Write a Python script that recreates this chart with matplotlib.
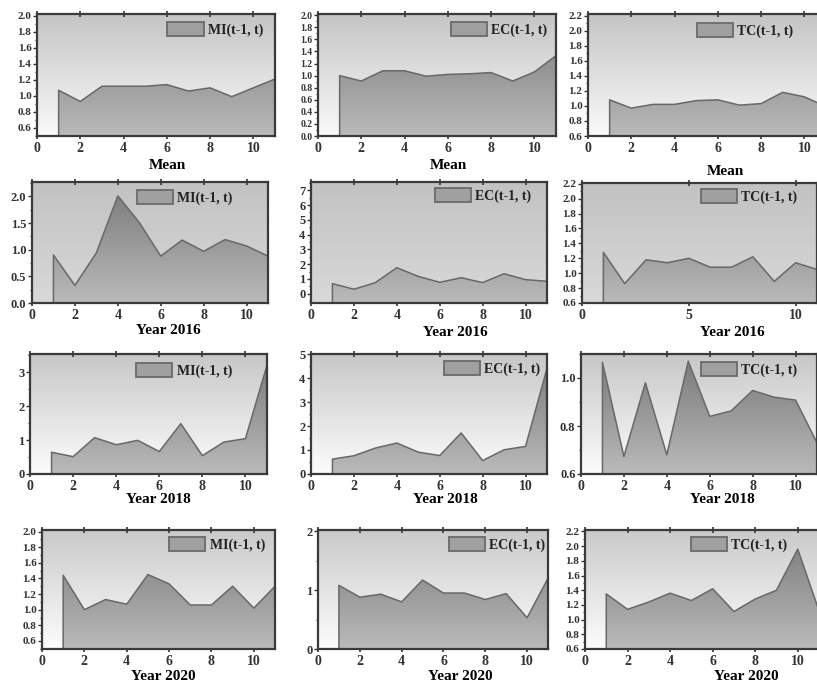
import numpy as np
import matplotlib.pyplot as plt
from matplotlib.patches import Patch
from matplotlib.ticker import MultipleLocator, AutoMinorLocator, FormatStrFormatter

plt.rcParams['font.family'] = ['Liberation Serif', 'DejaVu Serif']
plt.rcParams['font.weight'] = 'bold'
plt.rcParams['text.color'] = '#222222'
plt.rcParams['xtick.color'] = '#333333'
plt.rcParams['ytick.color'] = '#333333'

# period index t = 1..11
years = np.arange(1, 12)

# Mean
mean_mi = [1.07, 0.93, 1.12, 1.12, 1.12, 1.14, 1.06, 1.10, 0.99, 1.10, 1.21]
mean_ec = [1.00, 0.91, 1.08, 1.08, 0.99, 1.02, 1.03, 1.05, 0.91, 1.06, 1.33]
mean_tc = [1.08, 0.97, 1.02, 1.02, 1.07, 1.08, 1.01, 1.03, 1.18, 1.12, 0.99]
# Year 2016
y2016_mi = [0.90, 0.33, 0.94, 2.01, 1.51, 0.88, 1.18, 0.97, 1.19, 1.07, 0.88]
y2016_ec = [0.68, 0.30, 0.75, 1.76, 1.17, 0.77, 1.08, 0.75, 1.35, 0.95, 0.84]
y2016_tc = [1.28, 0.86, 1.18, 1.14, 1.20, 1.08, 1.08, 1.22, 0.89, 1.14, 1.05]
# Year 2018
y2018_mi = [0.64, 0.51, 1.07, 0.86, 0.99, 0.66, 1.48, 0.54, 0.94, 1.04, 3.20]
y2018_ec = [0.62, 0.76, 1.08, 1.29, 0.91, 0.77, 1.71, 0.56, 1.01, 1.15, 4.40]
y2018_tc = [1.065, 0.673, 0.98, 0.68, 1.07, 0.84, 0.863, 0.948, 0.92, 0.908, 0.73]
# Year 2020
y2020_mi = [1.44, 1.00, 1.13, 1.07, 1.45, 1.33, 1.06, 1.06, 1.30, 1.02, 1.30]
y2020_ec = [1.08, 0.88, 0.93, 0.80, 1.17, 0.95, 0.95, 0.84, 0.94, 0.53, 1.20]
y2020_tc = [1.35, 1.14, 1.24, 1.36, 1.26, 1.42, 1.11, 1.28, 1.40, 1.96, 1.12]

W, H = 817, 687
fig = plt.figure(figsize=(W / 100, H / 100), dpi=100)

FILL_TOP, FILL_BOTTOM = (0.47, 0.47, 0.47), (0.73, 0.73, 0.73)
ROW_BG = [((0.77, 0.77, 0.77), (0.98, 0.98, 0.98)),
          ((0.76, 0.76, 0.76), (0.85, 0.85, 0.85)),
          ((0.78, 0.78, 0.78), (0.99, 0.99, 0.99)),
          ((0.79, 0.79, 0.79), (0.99, 0.99, 0.99))]


def px_axes(l, t, r, b):
    return fig.add_axes([l / W, 1 - b / H, (r - l) / W, (b - t) / H])


def vgrad(top, bottom, n=256):
    t = np.linspace(0, 1, n)[:, None]
    top, bottom = np.array(top), np.array(bottom)
    return (bottom + (top - bottom) * t)[:, None, :]


def draw(box, values, label, ylim, ystep, yfmt, xstep, bg, xlabel, xlab_pos, leg_pos, yfs):
    ax = px_axes(*box)
    x0, x1 = 0, 11
    y0, y1 = ylim
    ax.imshow(vgrad(*bg), extent=[x0, x1, y0, y1], origin='lower',
              aspect='auto', zorder=0, interpolation='bilinear')
    poly = ax.fill_between(years, values, y0, facecolor='none',
                           edgecolor='#686868', linewidth=1.1, zorder=3)
    img = ax.imshow(vgrad(FILL_TOP, FILL_BOTTOM), extent=[x0, x1, y0, y1],
                    origin='lower', aspect='auto', zorder=2, interpolation='bilinear')
    img.set_clip_path(poly.get_paths()[0], transform=ax.transData)
    ax.set_xlim(x0, x1)
    ax.set_ylim(y0, y1)

    ax.xaxis.set_major_locator(MultipleLocator(xstep))
    ax.yaxis.set_major_locator(MultipleLocator(ystep))
    ax.yaxis.set_minor_locator(AutoMinorLocator(2))
    ax.yaxis.set_major_formatter(FormatStrFormatter(yfmt))
    ax.tick_params(axis='y', which='major', direction='out', length=3, width=1,
                   labelsize=yfs, pad=1)
    ax.tick_params(axis='y', which='minor', direction='out', length=1.5, width=0.8)
    ax.tick_params(axis='x', which='major', direction='inout', length=4, width=1.2,
                   top=True, labelsize=10, pad=2)
    for sp in ax.spines.values():
        sp.set_linewidth(1.6)
        sp.set_color('#3a3a3a')
        sp.set_zorder(4)

    ax.set_xlabel(xlabel, fontsize=11, fontweight='bold')
    ax.xaxis.set_label_coords(*xlab_pos)

    handle = Patch(facecolor='#a0a0a0', edgecolor='#6a6a6a', linewidth=1.3)
    ax.legend([handle], [label], loc='upper right', bbox_to_anchor=leg_pos,
              frameon=False, borderaxespad=0, borderpad=0, handlelength=2.6,
              handleheight=1.2, handletextpad=0.3,
              prop={'family': ['Liberation Serif', 'DejaVu Serif'], 'weight': 'bold', 'size': 10})
    return ax


panels = [
    # row 1: Mean
    ((37, 14, 275, 136), mean_mi, 'MI(t-1, t)', (0.5, 2.02), 0.2, '%.1f', 2, 0,
     'Mean', (0.546, -0.19), (0.95, 0.934), 8),
    ((318, 14, 556, 136), mean_ec, 'EC(t-1, t)', (0.0, 2.02), 0.2, '%.1f', 2, 0,
     'Mean', (0.546, -0.19), (0.962, 0.934), 7),
    ((588, 14, 826, 136), mean_tc, 'TC(t-1, t)', (0.6, 2.22), 0.2, '%.1f', 2, 0,
     'Mean', (0.576, -0.24), (0.861, 0.926), 8),
    # row 2: Year 2016
    ((32, 182, 268, 303), y2016_mi, 'MI(t-1, t)', (0.0, 2.27), 0.5, '%.1f', 2, 1,
     'Year 2016', (0.576, -0.175), (0.85, 0.934), 9),
    ((311, 182, 547, 303), y2016_ec, 'EC(t-1, t)', (-0.63, 7.56), 1, '%d', 2, 1,
     'Year 2016', (0.61, -0.19), (0.932, 0.95), 9),
    ((582, 183, 817, 303), y2016_tc, 'TC(t-1, t)', (0.6, 2.21), 0.2, '%.1f', 5, 1,
     'Year 2016', (0.64, -0.19), (0.915, 0.95), 8),
    # row 3: Year 2018
    ((30, 354, 267, 474), y2018_mi, 'MI(t-1, t)', (0.0, 3.53), 1, '%d', 2, 2,
     'Year 2018', (0.54, -0.16), (0.852, 0.925), 9),
    ((311, 354, 547, 474), y2018_ec, 'EC(t-1, t)', (0.0, 5.0), 1, '%d', 2, 2,
     'Year 2018', (0.57, -0.16), (0.97, 0.94), 9),
    ((581, 354, 817, 474), y2018_tc, 'TC(t-1, t)', (0.6, 1.10), 0.2, '%.1f', 2, 2,
     'Year 2018', (0.6, -0.16), (0.915, 0.933), 9),
    # row 4: Year 2020
    ((42, 530, 275, 649), y2020_mi, 'MI(t-1, t)', (0.497, 2.02), 0.2, '%.1f', 2, 3,
     'Year 2020', (0.52, -0.18), (0.957, 0.94), 8),
    ((318, 530, 548, 649), y2020_ec, 'EC(t-1, t)', (0.0, 2.02), 1, '%d', 2, 3,
     'Year 2020', (0.62, -0.18), (0.987, 0.94), 9),
    ((585, 530, 819, 649), y2020_tc, 'TC(t-1, t)', (0.6, 2.22), 0.2, '%.1f', 2, 3,
     'Year 2020', (0.69, -0.18), (0.863, 0.94), 8),
]

for (box, vals, lab, ylim, ystep, yfmt, xstep, row, xl, xlp, lp, yfs) in panels:
    draw(box, vals, lab, ylim, ystep, yfmt, xstep, ROW_BG[row], xl, xlp, lp, yfs)

fig.savefig('out.png', dpi=100)
